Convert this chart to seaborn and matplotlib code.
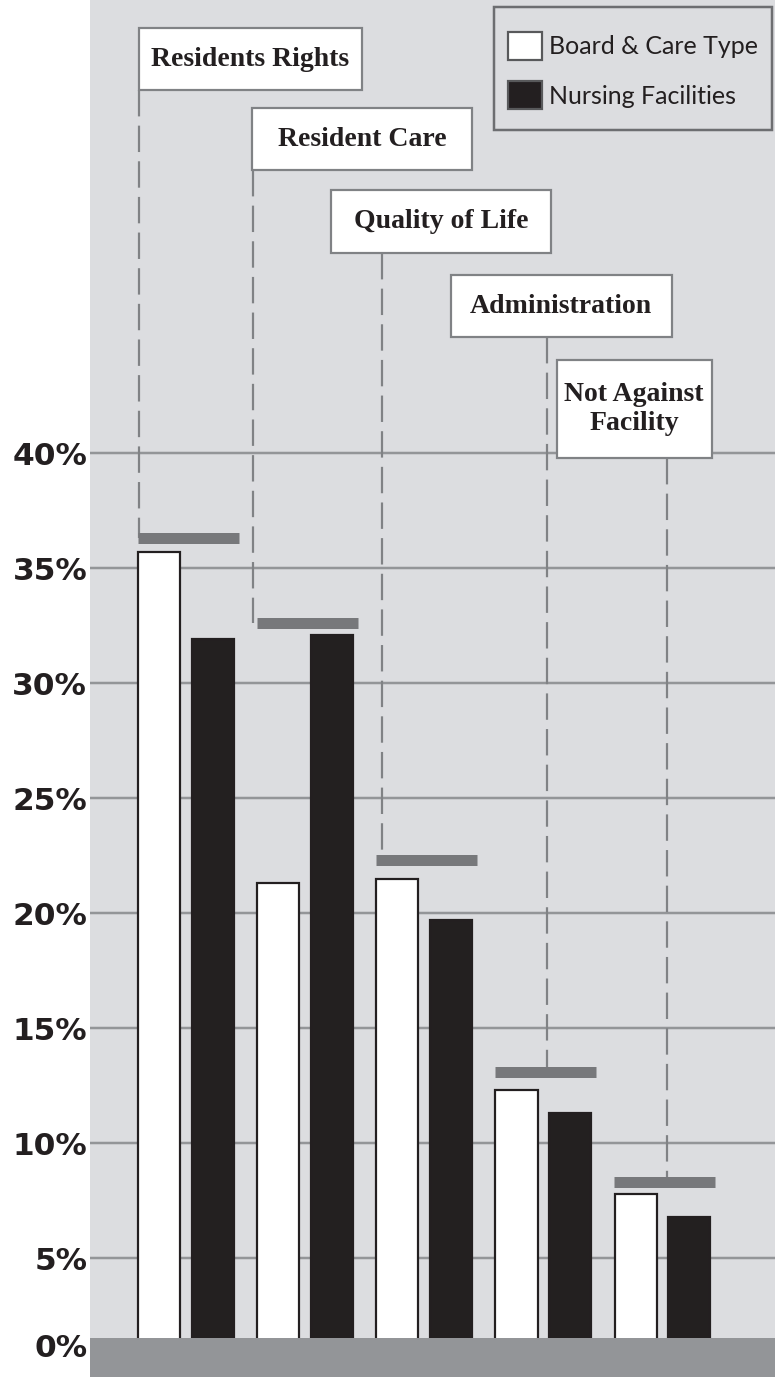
import matplotlib
matplotlib.use("Agg")
import matplotlib.pyplot as plt
from matplotlib.patches import Rectangle, Patch
import numpy as np
import pandas as pd
import seaborn as sns

# Complaint categories and the share of complaints in each, by facility type
categories = ["Residents Rights", "Resident Care", "Quality of Life",
              "Administration", "Not Against\nFacility"]
board_care = [35.7, 21.3, 21.5, 12.3, 7.8]
nursing = [31.9, 32.1, 19.7, 11.3, 6.8]
# Overall share for each category (grey bar above each pair)
overall = [36.3, 32.6, 22.3, 13.1, 8.3]

series_names = ["Board & Care Type", "Nursing Facilities"]
ytick_values = [5, 10, 15, 20, 25, 30, 35, 40]
ytick_labels = ["5%", "10%", "15%", "20%", "25%", "30%", "35%", "40%"]

# Callout layout: box centre x/y, box width/height (data units), leader x offset
callouts = [
    (0.542, 57.13, 1.872, 2.70, -0.395),
    (1.478, 53.65, 1.847, 2.70, -0.44),
    (2.139, 50.07, 1.847, 2.74, -0.357),
    (3.149, 46.39, 1.856, 2.70, 0.03),
    (3.762, 41.91, 1.301, 4.26, 0.04),
]

df = pd.DataFrame({
    "category": categories * 2,
    "type": [series_names[0]] * 5 + [series_names[1]] * 5,
    "value": board_care + nursing,
})

DARK = "#231f20"
BG = "#dcdde0"
GRID = "#939598"
BAND = "#939598"
MARK = "#77787b"
BOXEDGE = "#808285"
px = 0.72  # one pixel in points at 100 dpi

sns.set_theme(style="white")
plt.rcParams["font.family"] = ["DejaVu Sans"]

fig = plt.figure(figsize=(7.75, 13.77), dpi=100)
ax = fig.add_axes([90 / 775, 0, 685 / 775, 1])
ax.set_facecolor(BG)

sns.barplot(data=df, x="category", y="value", hue="type", order=categories,
            hue_order=series_names,
            palette={series_names[0]: "white", series_names[1]: DARK},
            width=0.9, gap=0.215, edgecolor=DARK, linewidth=2.2 * px,
            legend=False, ax=ax, zorder=2)

ax.set_xlim(-0.806, 4.945)
ax.set_ylim(-0.17, 59.7)

# horizontal grid
for v in ytick_values:
    ax.axhline(v, color=GRID, lw=2.5 * px, zorder=0.5)

# grey base band
ax.axhspan(-1, 1.52, color=BAND, zorder=3, lw=0)

# overall markers
xs = np.arange(len(categories))
ax.hlines(overall, xs - 0.405, xs + 0.445, colors=MARK, lw=11 * px,
          zorder=4, capstyle="butt")

# callout boxes and leader lines
for i, (cx, cy, w, h, off) in enumerate(callouts):
    ax.add_patch(Rectangle((cx - w / 2, cy - h / 2), w, h, facecolor="white",
                           edgecolor=BOXEDGE, lw=2.2 * px, zorder=5))
    ax.text(cx, cy, categories[i], ha="center", va="center",
            fontsize=20, fontweight="bold", family="Liberation Serif",
            color=DARK, zorder=6, linespacing=1.2)
    lx = xs[i] + off
    ln, = ax.plot([lx, lx], [cy - h / 2, overall[i]], color=BOXEDGE,
                  lw=2.2 * px, zorder=3.5)
    ln.set_dashes((12, 4.2))

# y ticks
ax.set_yticks([1.2] + ytick_values)
ax.set_yticklabels(["0%"] + ytick_labels)
ax.tick_params(axis="y", length=0, pad=2, labelsize=22.5, labelcolor=DARK)
for t in ax.get_yticklabels():
    t.set_fontweight("bold")
ax.set_xticks([])
ax.set_xlabel("")
ax.set_ylabel("")
for s in ax.spines.values():
    s.set_visible(False)

# legend frame (drawn separately for exact padding)
ax.add_patch(Rectangle((404 / 685, 1 - 130 / 1377), 278 / 685, 123 / 1377,
                       transform=ax.transAxes, facecolor=BG,
                       edgecolor="#6d6e71", lw=2.5 * px, zorder=6.5))
handles = [Patch(facecolor="white", edgecolor="#58595b", lw=2.2 * px),
           Patch(facecolor=DARK, edgecolor="#58595b", lw=2.2 * px)]
leg = ax.legend(handles, series_names, loc="upper left",
                bbox_to_anchor=(418 / 685, 1 - 32 / 1377), borderaxespad=0,
                frameon=False, prop={"family": "Lato", "size": 18},
                handlelength=1.35, handleheight=1.35, handletextpad=0.3,
                labelspacing=0.85, borderpad=0)
for t in leg.get_texts():
    t.set_color(DARK)
leg.set_zorder(7)

fig.savefig("out.png", dpi=100, facecolor="white")
